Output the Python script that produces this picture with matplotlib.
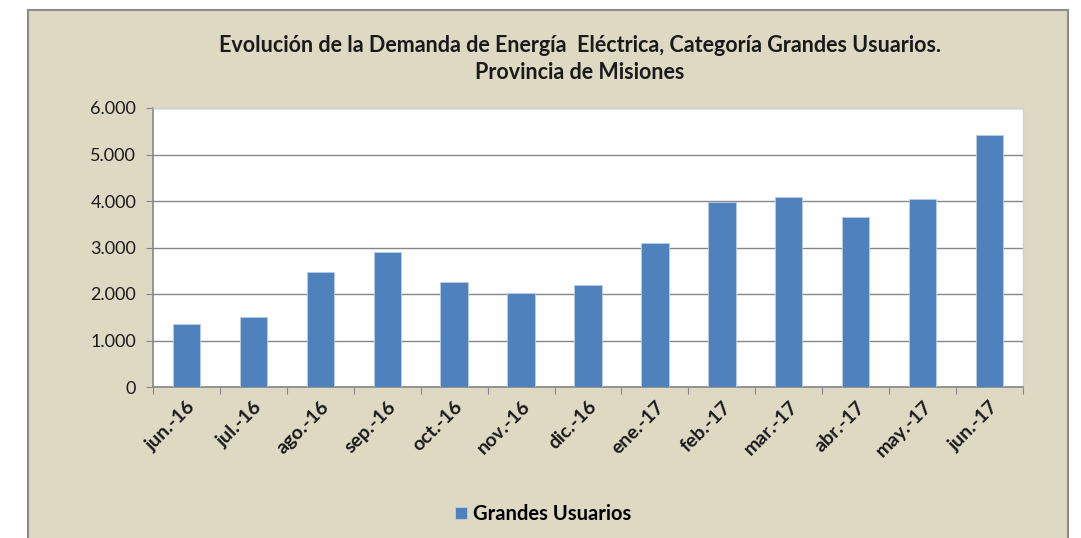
import matplotlib
matplotlib.use("Agg")
import matplotlib.pyplot as plt
from matplotlib.patches import Rectangle
from matplotlib.ticker import FuncFormatter, FixedLocator

# Datos de la serie
meses = ['jun.-16', 'jul.-16', 'ago.-16', 'sep.-16', 'oct.-16', 'nov.-16', 'dic.-16',
         'ene.-17', 'feb.-17', 'mar.-17', 'abr.-17', 'may.-17', 'jun.-17']
grandes_usuarios = [1350, 1500, 2470, 2910, 2260, 2020, 2195,
                    3100, 3985, 4080, 3650, 4035, 5425]
y_ticks = [0, 1000, 2000, 3000, 4000, 5000, 6000]

FONDO = '#DDD9C3'
AZUL = '#4F81BD'
GRIS = '#868686'

plt.rcParams['font.family'] = ['Lato', 'DejaVu Sans']

fig = plt.figure(figsize=(10.81, 5.38), dpi=100)
fig.patch.set_facecolor('white')

# Marco del grafico (estilo Excel)
marco = Rectangle((28 / 1081, -0.05), (1068 - 28) / 1081, 1.05 - 10 / 538,
                  transform=fig.transFigure, facecolor=FONDO, edgecolor='#8C8C8C',
                  linewidth=1.5, zorder=-5)
fig.patches.append(marco)

ax = fig.add_axes([153 / 1081, 1 - 387 / 538, (1023 - 153) / 1081, (387 - 108) / 538])
ax.set_zorder(2)
ax.set_facecolor('white')

x = list(range(len(meses)))
ax.bar(x, grandes_usuarios, width=0.41, color=AZUL, edgecolor='#B9CDE5',
       linewidth=0.6, zorder=3, label='Grandes Usuarios')

ax.set_xlim(-0.5, len(meses) - 0.5)
ax.set_ylim(0, 6000)
ax.set_yticks(y_ticks)
ax.yaxis.set_major_formatter(FuncFormatter(lambda v, p: f'{int(v):,}'.replace(',', '.')))
ax.grid(axis='y', color=GRIS, linewidth=1, zorder=1)

# Ticks del eje x entre categorias, etiquetas centradas
ax.xaxis.set_major_locator(FixedLocator([i - 0.5 for i in range(len(meses) + 1)]))
ax.xaxis.set_major_formatter(FuncFormatter(lambda v, p: ''))
ax.set_xticks(x, minor=True)
ax.set_xticklabels(meses, minor=True, rotation=45, ha='right', rotation_mode='anchor',
                   fontsize=14, fontweight='bold', color='#1A1A1A')
ax.tick_params(axis='x', which='minor', length=0, pad=8)
ax.tick_params(axis='x', which='major', length=5, color=GRIS, direction='out')
ax.tick_params(axis='y', length=5, color=GRIS, labelsize=13, labelcolor='#1A1A1A', pad=7)

for lado in ['left', 'bottom']:
    ax.spines[lado].set_color(GRIS)
    ax.spines[lado].set_linewidth(1.2)
for lado in ['top', 'right']:
    ax.spines[lado].set_color('#D0D0D0')
    ax.spines[lado].set_linewidth(1)

fig.text(580 / 1081, 1 - 59 / 538,
         'Evolución de la Demanda de Energía  Eléctrica, Categoría Grandes Usuarios.\nProvincia de Misiones',
         ha='center', va='center', fontsize=15.5, fontweight='bold', color='#1A1A1A',
         linespacing=1.35)

fig.legend(loc='center', bbox_to_anchor=(543 / 1081, 1 - 514 / 538), frameon=False,
           prop={'size': 14.5, 'weight': 'bold'}, handlelength=0.6, handleheight=0.6,
           handletextpad=0.3)

fig.savefig('out.png', dpi=100, facecolor=fig.get_facecolor())
